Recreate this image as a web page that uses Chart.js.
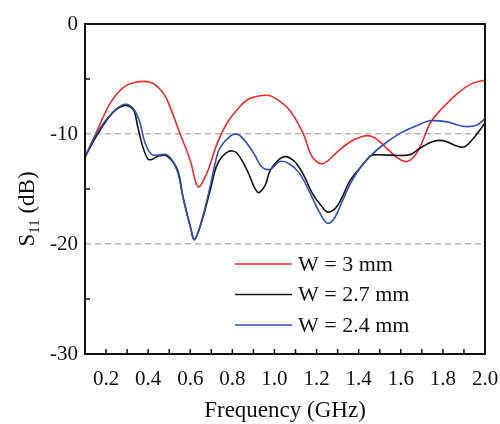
<!DOCTYPE html>
<html>
<head>
<meta charset="utf-8">
<script src="https://cdn.jsdelivr.net/npm/chart.js@4"></script>
<style>
  html, body { margin: 0; padding: 0; background: #fff; }
  #wrap { width: 500px; height: 424px; }
</style>
</head>
<body>
<div id="wrap"><canvas id="s11Chart" width="500" height="424"></canvas></div>
<script>
// values
const seriesLabels = ['W = 3 mm', 'W = 2.7 mm', 'W = 2.4 mm'];

const redFreq = [0.10, 0.15, 0.22, 0.28, 0.34, 0.41, 0.46, 0.49, 0.55, 0.60, 0.637, 0.68, 0.727, 0.775, 0.836, 0.88, 0.94, 0.99, 1.07, 1.135, 1.18, 1.23, 1.30, 1.36, 1.42, 1.46, 1.50, 1.58, 1.63, 1.68, 1.74, 1.79, 1.87, 1.94, 2.00];
const redS11 = [-12.1, -10.0, -7.2, -5.8, -5.3, -5.3, -6.0, -6.9, -9.9, -12.4, -14.8, -13.5, -10.9, -9.0, -7.5, -6.8, -6.5, -6.6, -7.8, -9.9, -12.1, -12.7, -11.6, -10.7, -10.2, -10.2, -10.7, -12.1, -12.5, -11.6, -9.0, -7.8, -6.3, -5.4, -5.1];

const blackFreq = [0.10, 0.16, 0.23, 0.29, 0.33, 0.35, 0.375, 0.40, 0.42, 0.45, 0.49, 0.54, 0.565, 0.60, 0.62, 0.655, 0.695, 0.73, 0.78, 0.82, 0.87, 0.92, 0.955, 0.98, 1.04, 1.09, 1.135, 1.18, 1.225, 1.255, 1.30, 1.36, 1.41, 1.45, 1.47, 1.64, 1.69, 1.75, 1.80, 1.895, 1.94, 2.00];
const blackS11 = [-12.1, -10.0, -8.1, -7.4, -7.8, -9.3, -11.2, -12.3, -12.3, -12.0, -12.0, -13.3, -15.7, -18.4, -19.6, -17.9, -15.1, -12.7, -11.6, -11.7, -13.3, -15.3, -14.7, -13.3, -12.1, -12.4, -13.6, -15.4, -16.6, -17.1, -16.5, -14.2, -13.0, -12.1, -11.9, -11.9, -11.3, -10.7, -10.6, -11.2, -10.5, -9.0];

const blueFreq = [0.10, 0.157, 0.233, 0.29, 0.33, 0.36, 0.385, 0.42, 0.49, 0.537, 0.565, 0.60, 0.62, 0.655, 0.694, 0.72, 0.74, 0.79, 0.82, 0.85, 0.90, 0.94, 0.98, 1.025, 1.07, 1.12, 1.17, 1.216, 1.25, 1.28, 1.325, 1.36, 1.41, 1.45, 1.515, 1.60, 1.68, 1.74, 1.82, 1.895, 1.96, 2.00];
const blueS11 = [-12.1, -9.9, -8.0, -7.3, -7.7, -8.9, -10.8, -11.9, -11.9, -13.3, -15.7, -18.4, -19.6, -17.8, -14.8, -12.5, -11.3, -10.2, -10.0, -10.4, -11.7, -13.0, -13.2, -12.5, -12.7, -13.6, -15.4, -17.2, -18.1, -17.8, -16.0, -14.5, -13.0, -12.1, -11.0, -9.9, -9.2, -8.8, -8.9, -9.3, -9.2, -8.6];

const xTicks = [0.2, 0.4, 0.6, 0.8, 1.0, 1.2, 1.4, 1.6, 1.8, 2.0];
const xMinorTicks = [0.3, 0.5, 0.7, 0.9, 1.1, 1.3, 1.5, 1.7, 1.9];
const yTicks = [-30, -20, -10, 0];
const yMinorTicks = [-25, -15, -5];
const dashedLevels = [-10, -20];

const serif = "'Liberation Serif', 'DejaVu Serif', serif";

function toPoints(xs, ys) {
    return xs.map((x, i) => ({ x: x, y: ys[i] }));
}

// frame, inward ticks, axis titles and legend drawn on top of the plot
const framePlugin = {
    id: 'frame',
    afterDatasetsDraw(chart) {
        const ctx = chart.ctx;
        const area = chart.chartArea;
        const xs = chart.scales.x;
        const ys = chart.scales.y;
        ctx.save();

        ctx.strokeStyle = '#111';
        ctx.lineWidth = 2;
        ctx.strokeRect(area.left, area.top, area.right - area.left, area.bottom - area.top);

        ctx.lineWidth = 1.5;
        ctx.beginPath();
        xTicks.concat(xMinorTicks).forEach(v => {
            const px = xs.getPixelForValue(v);
            ctx.moveTo(px, area.bottom);
            ctx.lineTo(px, area.bottom - 5);
        });
        yMinorTicks.forEach(v => {
            const py = ys.getPixelForValue(v);
            ctx.moveTo(area.left, py);
            ctx.lineTo(area.left + 5, py);
        });
        ctx.stroke();

        // x title
        ctx.fillStyle = '#111';
        ctx.font = '23px ' + serif;
        ctx.textAlign = 'center';
        ctx.textBaseline = 'alphabetic';
        ctx.fillText('Frequency (GHz)', (area.left + area.right) / 2, 417);

        // y title with subscript
        ctx.save();
        ctx.translate(34, 209);
        ctx.rotate(-Math.PI / 2);
        ctx.textAlign = 'left';
        const mainFont = '23px ' + serif;
        const subFont = '15px ' + serif;
        ctx.font = mainFont;
        const wS = ctx.measureText('S').width;
        const wRest = ctx.measureText(' (dB)').width;
        ctx.font = subFont;
        const wSub = ctx.measureText('11').width;
        let pos = -(wS + wSub + wRest) / 2;
        ctx.font = mainFont;
        ctx.fillText('S', pos, 0);
        pos += wS;
        ctx.font = subFont;
        ctx.fillText('11', pos, 5);
        pos += wSub;
        ctx.font = mainFont;
        ctx.fillText(' (dB)', pos, 0);
        ctx.restore();

        // legend
        ctx.font = '22px ' + serif;
        ctx.textAlign = 'left';
        ctx.textBaseline = 'middle';
        chart.data.datasets.forEach((ds, i) => {
            const y = 264 + i * 30.5;
            ctx.strokeStyle = ds.borderColor;
            ctx.lineWidth = 1.6;
            ctx.beginPath();
            ctx.moveTo(235, y);
            ctx.lineTo(292, y);
            ctx.stroke();
            ctx.fillStyle = '#111';
            ctx.fillText(ds.label, 298, y + 1);
        });

        ctx.restore();
    }
};

const ctx = document.getElementById('s11Chart').getContext('2d');
const s11Chart = new Chart(ctx, {
    type: 'line',
    data: {
        datasets: [
            {
                label: seriesLabels[0],
                data: toPoints(redFreq, redS11),
                borderColor: '#ec2b2b',
                order: 2
            },
            {
                label: seriesLabels[1],
                data: toPoints(blackFreq, blackS11),
                borderColor: '#151515',
                order: 1
            },
            {
                label: seriesLabels[2],
                data: toPoints(blueFreq, blueS11),
                borderColor: '#2f51b3',
                order: 0
            }
        ]
    },
    options: {
        responsive: false,
        animation: false,
        layout: { padding: { top: 24, right: 15, left: 0, bottom: 0 } },
        elements: {
            point: { radius: 0 },
            line: { borderWidth: 1.6, tension: 0.35, fill: false }
        },
        scales: {
            x: {
                type: 'linear',
                min: 0.1,
                max: 2.0,
                afterBuildTicks: scale => {
                    scale.ticks = xTicks.map(v => ({ value: v }));
                },
                afterFit: scale => {
                    scale.height = 70;
                    scale.paddingLeft = 0;
                    scale.paddingRight = 0;
                },
                grid: { display: false, drawTicks: false },
                border: { display: false },
                ticks: {
                    color: '#111',
                    padding: 13,
                    maxRotation: 0,
                    autoSkip: false,
                    font: { family: serif, size: 21 },
                    callback: v => Number(v).toFixed(1)
                }
            },
            y: {
                min: -30,
                max: 0,
                afterBuildTicks: scale => {
                    scale.ticks = yTicks.map(v => ({ value: v }));
                },
                afterFit: scale => {
                    scale.width = 85;
                },
                grid: {
                    drawTicks: false,
                    lineWidth: 1.5,
                    color: c => dashedLevels.includes(c.tick.value) ? '#b4b4b4' : 'rgba(0,0,0,0)'
                },
                border: { display: false, dash: [6, 4] },
                ticks: {
                    color: '#111',
                    padding: 7,
                    font: { family: serif, size: 21 },
                    callback: v => String(v)
                }
            }
        },
        plugins: {
            legend: { display: false },
            tooltip: { enabled: false }
        }
    },
    plugins: [framePlugin]
});
</script>
</body>
</html>
